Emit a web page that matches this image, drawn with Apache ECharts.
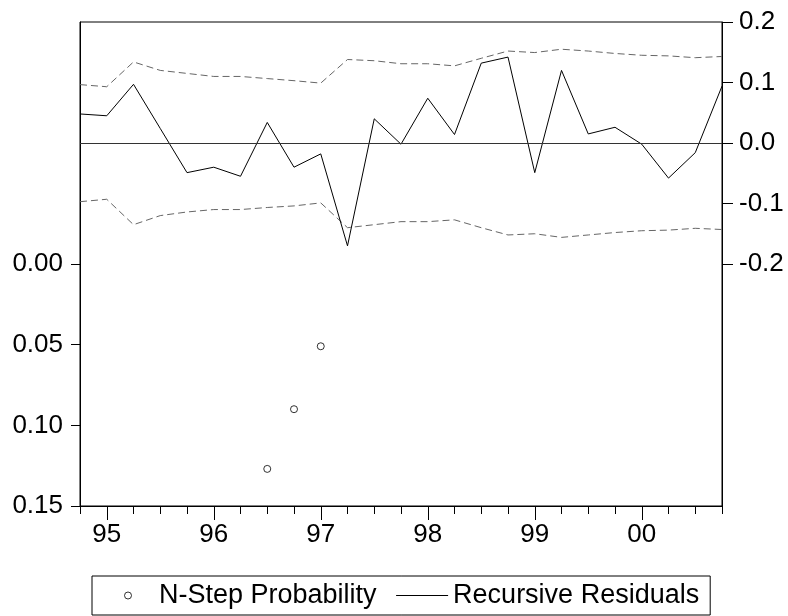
<!DOCTYPE html>
<html>
<head>
<meta charset="utf-8">
<script src="https://cdn.jsdelivr.net/npm/echarts@6/dist/echarts.min.js"></script>
<style>
html,body{margin:0;padding:0;background:#fff;}
#chart{width:788px;height:616px;}
</style>
</head>
<body>
<div id="chart"></div>
<script>
var quarters = ['1994Q4','1995Q1','1995Q2','1995Q3','1995Q4','1996Q1','1996Q2','1996Q3','1996Q4',
  '1997Q1','1997Q2','1997Q3','1997Q4','1998Q1','1998Q2','1998Q3','1998Q4',
  '1999Q1','1999Q2','1999Q3','1999Q4','2000Q1','2000Q2','2000Q3','2000Q4'];
var residuals = [0.048, 0.045, 0.097, 0.024, -0.049, -0.040, -0.055, 0.034, -0.040,
  -0.018, -0.170, 0.040, -0.002, 0.074, 0.014, 0.132, 0.142,
  -0.049, 0.120, 0.015, 0.026, -0.002, -0.058, -0.016, 0.094];
var upperBand = [0.0965, 0.093, 0.134, 0.120, 0.115, 0.110, 0.110, 0.1065, 0.103,
  0.099, 0.138, 0.136, 0.131, 0.131, 0.1275, 0.140, 0.152,
  0.1495, 0.155, 0.152, 0.148, 0.145, 0.144, 0.141, 0.143];
var lowerBand = [-0.097, -0.093, -0.135, -0.120, -0.114, -0.110, -0.110, -0.1066, -0.104,
  -0.099, -0.140, -0.135, -0.130, -0.130, -0.127, -0.140, -0.152,
  -0.150, -0.156, -0.152, -0.148, -0.145, -0.144, -0.141, -0.143];
var probability = [null, null, null, null, null, null, null, 0.127, 0.090,
  0.051, null, null, null, null, null, null, null,
  null, null, null, null, null, null, null, null];
var leftTicks = [0, 0.05, 0.10, 0.15];
var rightTicks = [-0.2, -0.1, 0, 0.1, 0.2];

var FONT = 'Liberation Sans, Arial, sans-serif';
var chart = echarts.init(document.getElementById('chart'), null, {renderer: 'canvas'});

var option = {
  animation: false,
  backgroundColor: '#fff',
  textStyle: {fontFamily: FONT, color: '#000'},
  grid: {left: 80, top: 22, width: 642, height: 484, show: true, borderColor: '#000', borderWidth: 1, containLabel: false},
  legend: {
    left: 92, top: 576,
    orient: 'horizontal',
    padding: [6, 11, 6, 32],
    itemGap: 19,
    itemWidth: 52,
    itemHeight: 7,
    borderColor: '#000',
    borderWidth: 1,
    textStyle: {fontFamily: FONT, fontSize: 27, color: '#000'},
    data: [
      {name: 'N-Step Probability', icon: 'circle', itemStyle: {color: '#fff', borderColor: '#000', borderWidth: 1}},
      {name: 'Recursive Residuals', itemStyle: {opacity: 0}, lineStyle: {width: 1, color: '#000'}}
    ]
  },
  xAxis: [
    {
      type: 'category', data: quarters, boundaryGap: false, position: 'bottom',
      axisLine: {show: true, onZero: false, lineStyle: {color: '#000', width: 1}},
      axisTick: {show: true, interval: 0, length: 8, lineStyle: {color: '#000'}},
      axisLabel: {
        show: true, interval: 0, margin: 16, fontSize: 26, fontFamily: FONT, color: '#000',
        formatter: function (v) { return v.slice(4) === 'Q1' ? v.slice(2, 4) : ''; }
      },
      splitLine: {show: false}
    },
    {
      type: 'category', data: quarters, boundaryGap: false, position: 'bottom',
      axisLine: {show: false, onZero: false},
      axisTick: {show: true, length: 14, lineStyle: {color: '#000'},
        interval: function (i, v) { return v.slice(4) === 'Q1'; }},
      axisLabel: {show: false},
      splitLine: {show: false}
    }
  ],
  yAxis: [
    {
      type: 'value', position: 'left', inverse: true,
      min: -0.15, max: 0.15, interval: 0.05,
      axisLine: {show: true, onZero: false, lineStyle: {color: '#000', width: 1}},
      axisTick: {show: true, length: 9, customValues: leftTicks, lineStyle: {color: '#000'}},
      axisLabel: {show: true, margin: 17, fontSize: 26, fontFamily: FONT, color: '#000', customValues: leftTicks,
        formatter: function (v) { return v.toFixed(2); }},
      splitLine: {show: false}
    },
    {
      type: 'value', position: 'right',
      min: -0.6, max: 0.2, interval: 0.1,
      axisLine: {show: true, onZero: false, lineStyle: {color: '#000', width: 1}},
      axisTick: {show: true, length: 11, customValues: rightTicks, lineStyle: {color: '#000'}},
      axisLabel: {show: true, margin: 17, fontSize: 26, fontFamily: FONT, color: '#000', customValues: rightTicks,
        formatter: function (v) { return v.toFixed(1); }},
      splitLine: {show: false}
    }
  ],
  series: [
    {
      name: 'N-Step Probability', type: 'scatter', xAxisIndex: 0, yAxisIndex: 0,
      symbol: 'circle', symbolSize: 7,
      itemStyle: {color: '#fff', borderColor: '#000', borderWidth: 1},
      data: probability.map(function (v) { return v === null ? '-' : v; }),
      z: 5
    },
    {
      name: 'Recursive Residuals', type: 'line', xAxisIndex: 0, yAxisIndex: 1,
      symbol: 'none', showSymbol: false,
      lineStyle: {color: '#000', width: 1},
      itemStyle: {color: '#000'},
      data: residuals,
      markLine: {
        silent: true, symbol: ['none', 'none'], label: {show: false},
        lineStyle: {color: '#333', type: 'solid', width: 1},
        data: [{yAxis: 0}]
      },
      z: 4
    },
    {
      name: 'Upper', type: 'line', xAxisIndex: 0, yAxisIndex: 1,
      symbol: 'none', showSymbol: false,
      lineStyle: {color: '#666', width: 1, type: [7, 4]},
      data: upperBand, z: 3
    },
    {
      name: 'Lower', type: 'line', xAxisIndex: 0, yAxisIndex: 1,
      symbol: 'none', showSymbol: false,
      lineStyle: {color: '#666', width: 1, type: [7, 4]},
      data: lowerBand, z: 3
    }
  ]
};
chart.setOption(option);
</script>
</body>
</html>
